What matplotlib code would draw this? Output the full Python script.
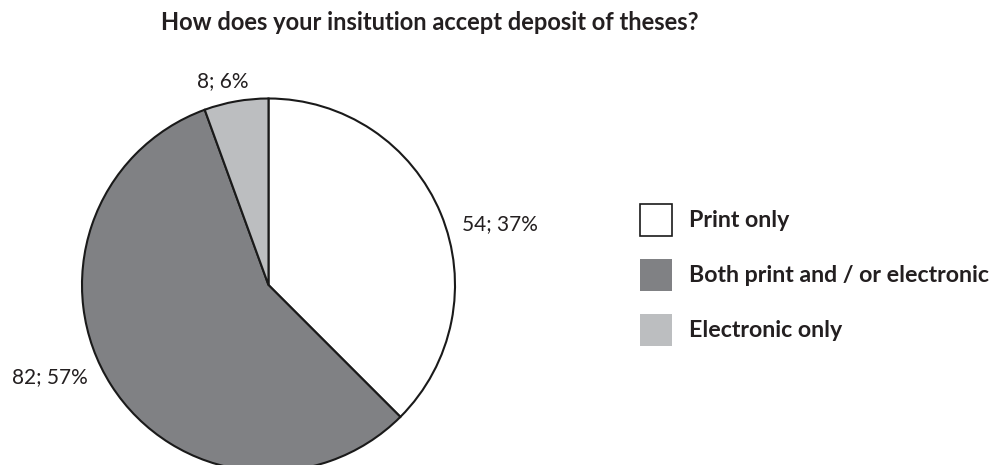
import matplotlib
matplotlib.use("Agg")
import matplotlib.pyplot as plt
from matplotlib.patches import Rectangle

# Survey responses
categories = ["Print only", "Both print and / or electronic", "Electronic only"]
counts = [54, 82, 8]
percents = [37, 57, 6]
title = "How does your insitution accept deposit of theses?"

colors = ["#ffffff", "#808184", "#bcbec0"]
text_color = "#231f20"

W, H = 1003, 465
fig = plt.figure(figsize=(W / 100, H / 100), dpi=100)
ax = fig.add_axes([0, 0, 1, 1])


def py(y):
    """Convert a top-based pixel row to the axes' y coordinate."""
    return H - y


center = (268.5, py(285))
radius = 186.5

ax.pie(counts, colors=colors, startangle=90, counterclock=False,
       center=center, radius=radius,
       wedgeprops=dict(edgecolor="#1a1a1a", linewidth=1.5))
ax.set_xlim(0, W)
ax.set_ylim(0, H)
ax.set_aspect("equal")
ax.axis("off")

# Value labels outside each slice: (left x, baseline y) in pixels
label_pos = [(462, 230), (12, 383), (197, 87)]
for (x, y), c, p in zip(label_pos, counts, percents):
    ax.text(x, py(y), f"{c}; {p}%", fontsize=15, family="Lato",
            color=text_color, ha="left", va="baseline")

# Title
ax.text(430, py(30), title, fontsize=17, family="Lato", fontweight="bold",
        color=text_color, ha="center", va="baseline")

# Legend
sq = 32
for i, (cat, col) in enumerate(zip(categories, colors)):
    top = 204 + i * 55
    ax.add_patch(Rectangle((640, py(top + sq)), sq, sq, facecolor=col,
                           edgecolor="#1a1a1a" if i == 0 else col,
                           linewidth=1.2 if i == 0 else 0))
    ax.text(689, py(top + 23), cat, fontsize=16.7, family="Lato",
            fontweight="bold", color=text_color, ha="left", va="baseline")

fig.savefig("out.png", dpi=100, facecolor="white")
